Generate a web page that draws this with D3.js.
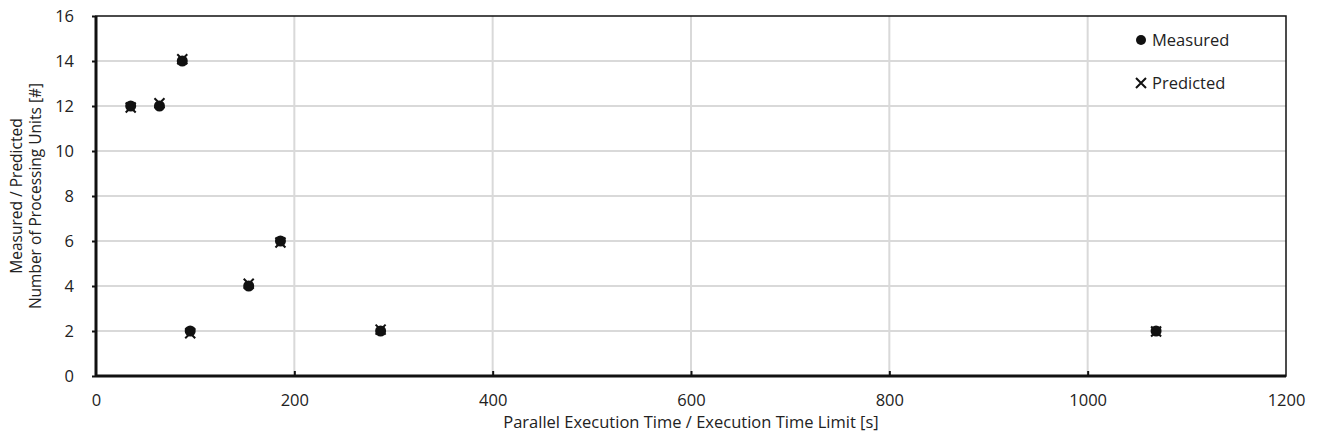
<!DOCTYPE html>
<html>
<head>
<meta charset="utf-8">
<script src="https://cdn.jsdelivr.net/npm/d3@7"></script>
<style>
  body { margin: 0; background: #fff; }
  text { font-family: "Open Sans", Lato, sans-serif; fill: #222; }
</style>
</head>
<body>
<div id="chart"></div>
<script>
// execution time / time limit [s]
const execTime = [35, 64, 87, 95, 154, 186, 287, 1069];
const measuredUnits = [12, 12, 14, 2, 4, 6, 2, 2];
const predictedUnits = [11.93, 12.12, 14.08, 1.9, 4.1, 5.93, 2.06, 1.98];
const xTicks = [0, 200, 400, 600, 800, 1000, 1200];
const yTicks = [0, 2, 4, 6, 8, 10, 12, 14, 16];
const seriesNames = ["Measured", "Predicted"];

const width = 1319, height = 444;
const margin = {left: 96, right: 33, top: 16, bottom: 68};
const fontSize = "16.5px";

const svg = d3.select("#chart").append("svg")
    .attr("width", width).attr("height", height);

let x = d3.scaleLinear().domain([0, 1200]).range([margin.left, width - margin.right]);
let y = d3.scaleLinear().domain([0, 16]).range([height - margin.bottom, margin.top]);

// grid
svg.append("g").selectAll("line.gx").data(xTicks.slice(1, -1)).join("line")
    .attr("x1", d => x(d)).attr("x2", d => x(d))
    .attr("y1", y(16)).attr("y2", y(0))
    .style("stroke", "#d9d9d9").style("stroke-width", 2);
svg.append("g").selectAll("line.gy").data(yTicks.slice(1, -1)).join("line")
    .attr("x1", x(0)).attr("x2", x(1200))
    .attr("y1", d => y(d)).attr("y2", d => y(d))
    .style("stroke", "#d9d9d9").style("stroke-width", 2);

// axes
let xAxis = d3.axisBottom(x).tickValues(xTicks).tickFormat(d3.format("d")).tickSize(-5).tickPadding(18);
let yAxis = d3.axisLeft(y).tickValues(yTicks).tickFormat(d3.format("d")).tickSize(4).tickPadding(18);
let gx = svg.append("g").attr("transform", `translate(0,${y(0)})`).call(xAxis);
let gy = svg.append("g").attr("transform", `translate(${x(0)},0)`).call(yAxis);
[gx, gy].forEach(g => {
    g.select(".domain").remove();
    g.selectAll("line").style("stroke", "#111").style("stroke-width", 2);
    g.selectAll("text").style("font-size", fontSize).style("font-family", "'Open Sans', sans-serif").attr("fill", "#222");
});
gx.selectAll(".tick").filter(d => d === 0 || d === 1200).select("line").remove();
gy.selectAll(".tick text").attr("dy", "0.35em");

// frame
svg.append("rect")
    .attr("x", x(0)).attr("y", y(16))
    .attr("width", x(1200) - x(0)).attr("height", y(0) - y(16))
    .style("fill", "none").style("stroke", "#111").style("stroke-width", 1.5);
svg.append("line").attr("x1", x(0)).attr("x2", x(0)).attr("y1", y(16)).attr("y2", y(0) + 1)
    .style("stroke", "#111").style("stroke-width", 3);
svg.append("line").attr("x1", x(0)).attr("x2", x(1200)).attr("y1", y(0)).attr("y2", y(0))
    .style("stroke", "#111").style("stroke-width", 3);

// points
let measured = execTime.map((t, i) => ({t: t, v: measuredUnits[i]}));
let predicted = execTime.map((t, i) => ({t: t, v: predictedUnits[i]}));

let cross = (cx, cy, r) => `M${cx - r},${cy - r}L${cx + r},${cy + r}M${cx - r},${cy + r}L${cx + r},${cy - r}`;

svg.append("g").selectAll("circle").data(measured).join("circle")
    .attr("cx", d => x(d.t)).attr("cy", d => y(d.v)).attr("r", 5.5)
    .style("fill", "#111");
svg.append("g").selectAll("path").data(predicted).join("path")
    .attr("d", d => cross(x(d.t), y(d.v), 5))
    .style("stroke", "#111").style("stroke-width", 2).style("fill", "none");

// legend
let legend = svg.append("g");
legend.append("circle").attr("cx", 1141).attr("cy", 40).attr("r", 5).style("fill", "#111");
legend.append("path").attr("d", cross(1141, 83, 5)).style("stroke", "#111").style("stroke-width", 2);
legend.selectAll("text").data(seriesNames).join("text")
    .attr("x", 1152).attr("y", (d, i) => 40 + i * 43).attr("dy", "0.35em")
    .style("font-size", fontSize).text(d => d);

// axis titles
svg.append("text")
    .attr("x", (x(0) + x(1200)) / 2).attr("y", 428)
    .attr("text-anchor", "middle").style("font-size", fontSize)
    .text("Parallel Execution Time / Execution Time Limit [s]");
let yTitle = svg.append("text")
    .attr("transform", `translate(0,${(y(0) + y(16)) / 2}) rotate(-90)`)
    .attr("text-anchor", "middle").style("font-size", "15.5px");
yTitle.append("tspan").attr("x", 0).attr("y", 22).text("Measured / Predicted");
yTitle.append("tspan").attr("x", 0).attr("y", 41).text("Number of Processing Units [#]");
</script>
</body>
</html>
